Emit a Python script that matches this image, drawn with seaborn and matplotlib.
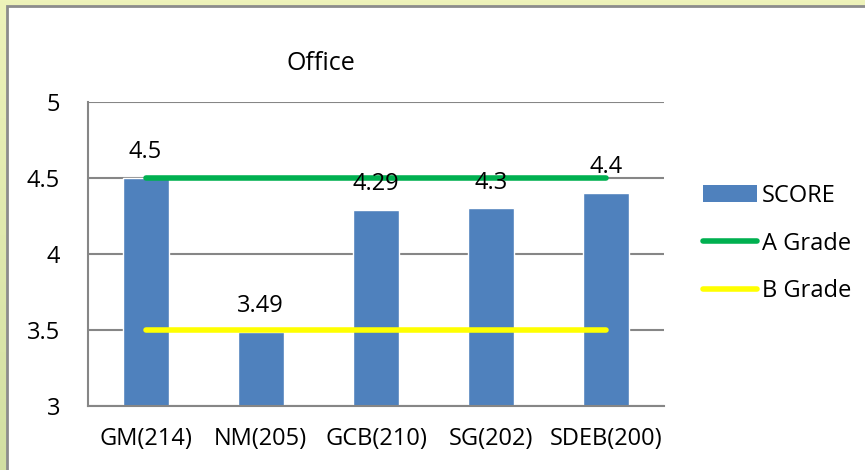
import numpy as np
import pandas as pd
import matplotlib
matplotlib.use("Agg")
import matplotlib.pyplot as plt
import seaborn as sns
from matplotlib.patches import Rectangle
from matplotlib.lines import Line2D
from matplotlib.patches import Patch
from matplotlib.colors import LinearSegmentedColormap

categories = ["GM(214)", "NM(205)", "GCB(210)", "SG(202)", "SDEB(200)"]
score = [4.5, 3.49, 4.29, 4.3, 4.4]
a_grade = [4.5, 4.5, 4.5, 4.5, 4.5]
b_grade = [3.5, 3.5, 3.5, 3.5, 3.5]
score_labels = ["4.5", "3.49", "4.29", "4.3", "4.4"]
yticks = [3, 3.5, 4, 4.5, 5]
ytick_labels = ["3", "3.5", "4", "4.5", "5"]

sns.set_theme(style="white")
plt.rcParams["font.family"] = ["Open Sans", "DejaVu Sans"]
plt.rcParams["text.color"] = "black"
plt.rcParams["xtick.labelcolor"] = "black"
plt.rcParams["ytick.labelcolor"] = "black"

FS = 17
W, H = 865, 470
fig = plt.figure(figsize=(W / 100, H / 100), dpi=100)

# background gradient
bg = fig.add_axes([0, 0, 1, 1], zorder=-10)
cmap = LinearSegmentedColormap.from_list("bg", ["#EEF3BA", "#D2DFA2"])
grad = np.linspace(0, 1, 256).reshape(-1, 1)
bg.imshow(grad, aspect="auto", cmap=cmap, extent=[0, W, H, 0])
bg.set_xlim(0, W)
bg.set_ylim(H, 0)
bg.add_patch(Rectangle((7, 6), W + 10, H + 10, facecolor="white",
                       edgecolor="#8C8C8C", linewidth=2))
bg.axis("off")

df = pd.DataFrame({"cat": categories, "score": score,
                   "a": a_grade, "b": b_grade})

ax = fig.add_axes([88 / W, 1 - 406 / H, 576 / W, 304 / H])
ax.set_facecolor("none")
sns.barplot(data=df, x="cat", y="score", color="#4F81BD", width=0.4,
            saturation=1, ax=ax, zorder=2)
sns.lineplot(data=df, x="cat", y="a", color="#00B050", linewidth=4,
             sort=False, ax=ax, zorder=3, solid_capstyle="round")
sns.lineplot(data=df, x="cat", y="b", color="#FFFF00", linewidth=4,
             sort=False, ax=ax, zorder=3, solid_capstyle="round")

for i, (v, lab) in enumerate(zip(score, score_labels)):
    ax.annotate(lab, (i, v), xytext=(0, 10), textcoords="offset points",
                ha="center", va="bottom", fontsize=FS, color="black",
                zorder=5)

ax.set_xlim(-0.5, len(categories) - 0.5)
ax.set_ylim(3, 5)
ax.set_yticks(yticks)
ax.set_yticklabels(ytick_labels, fontsize=FS)
ax.yaxis.grid(True, color="#868686", linewidth=1.5, zorder=0)
ax.set_axisbelow(True)
ax.set_xticks(range(len(categories)))
ax.set_xticklabels(categories, fontsize=FS)
ax.tick_params(axis="x", length=0, pad=15)
ax.set_xticks(np.arange(-0.5, len(categories), 1), minor=True)
ax.tick_params(axis="x", which="minor", length=7, width=1.5,
               color="#868686", direction="out")
ax.tick_params(axis="y", length=8, width=1.5, color="#868686",
               direction="out", pad=12)
ax.set_xlabel("")
ax.set_ylabel("")
for s in ["top", "right"]:
    ax.spines[s].set_visible(False)
for s in ["left", "bottom"]:
    ax.spines[s].set_color("#868686")
    ax.spines[s].set_linewidth(1.5)

fig.text(321 / W, 1 - 63 / H, "Office", ha="center", va="center",
         fontsize=18, color="black")

handles = [Patch(facecolor="#4F81BD", edgecolor="none"),
           Line2D([], [], color="#00B050", linewidth=4, solid_capstyle="round"),
           Line2D([], [], color="#FFFF00", linewidth=4, solid_capstyle="round")]
fig.legend(handles, ["SCORE", "A Grade", "B Grade"], loc="upper left",
           bbox_to_anchor=(703 / W, 1 - 184 / H), frameon=False,
           fontsize=FS, handlelength=2.3, handletextpad=0.2,
           labelspacing=1.0, borderaxespad=0, borderpad=0)

fig.savefig("out.png", dpi=100)
